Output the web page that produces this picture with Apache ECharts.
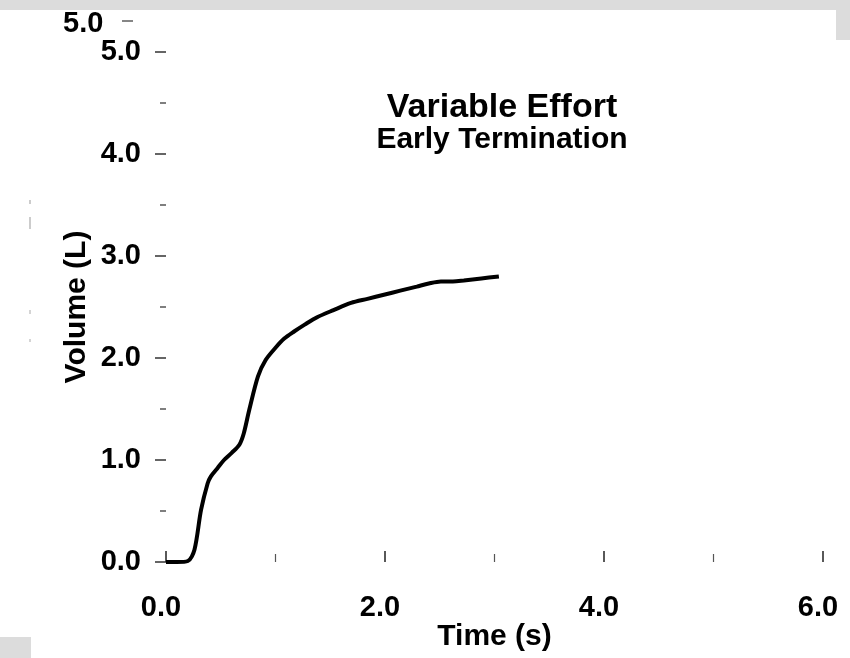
<!DOCTYPE html>
<html>
<head>
<meta charset="utf-8">
<script src="https://cdn.jsdelivr.net/npm/echarts@6/dist/echarts.min.js"></script>
<style>
  html, body { margin: 0; padding: 0; background: #fff; }
  #chart { width: 850px; height: 658px; }
</style>
</head>
<body>
<div id="chart"></div>
<script>
// spirometry trace
const times = [0, 0.1, 0.2, 0.26, 0.32, 0.38, 0.41, 0.47, 0.53, 0.6, 0.67, 0.71, 0.76, 0.84, 0.91, 1.0, 1.08, 1.17, 1.27, 1.38, 1.53, 1.69, 1.84, 1.99, 2.14, 2.29, 2.4, 2.51, 2.62, 2.72, 2.88, 3.04];
const volumes = [0, 0, 0.01, 0.12, 0.51, 0.77, 0.84, 0.92, 1.0, 1.07, 1.15, 1.26, 1.49, 1.82, 1.98, 2.1, 2.19, 2.26, 2.33, 2.4, 2.47, 2.54, 2.58, 2.62, 2.66, 2.7, 2.73, 2.75, 2.75, 2.76, 2.78, 2.8];
const xTicks = [0, 2, 4, 6];
const yTicks = [0, 1, 2, 3, 4, 5];

const font = "'Liberation Sans', Arial, sans-serif";
const scanGray = '#dcdcdc';

const chart = echarts.init(document.getElementById('chart'), null, { renderer: 'canvas' });

chart.setOption({
  backgroundColor: '#ffffff',
  animation: false,
  title: [
    {
      text: 'Variable Effort',
      left: 497, top: 86, textAlign: 'center',
      textStyle: { fontFamily: font, fontWeight: 'bold', fontSize: 34, color: '#000' }
    },
    {
      text: 'Early Termination',
      left: 497, top: 120, textAlign: 'center',
      textStyle: { fontFamily: font, fontWeight: 'bold', fontSize: 30, color: '#000' }
    }
  ],
  grid: { left: 166, right: 27, top: 52, bottom: 96, containLabel: false },
  xAxis: {
    type: 'value',
    min: 0, max: 6, interval: 2,
    name: 'Time (s)',
    nameLocation: 'middle',
    nameGap: 60,
    nameMoveOverlap: false,
    nameTextStyle: { fontFamily: font, fontWeight: 'bold', fontSize: 30, color: '#000' },
    axisLine: { show: false },
    axisTick: { show: true, inside: true, length: 11, lineStyle: { color: '#222', width: 1.5 } },
    minorTick: { show: true, splitNumber: 2, length: 8, lineStyle: { color: '#555', width: 1.2 } },
    splitLine: { show: false },
    axisLabel: {
      margin: 31,
      padding: [0, 10, 0, 0],
      fontFamily: font, fontWeight: 'bold', fontSize: 29, color: '#000',
      formatter: v => xTicks.includes(v) ? v.toFixed(1) : ''
    }
  },
  yAxis: {
    type: 'value',
    min: 0, max: 5, interval: 1,
    name: 'Volume (L)',
    nameLocation: 'middle',
    nameGap: 74,
    nameRotate: 90,
    nameMoveOverlap: false,
    nameTextStyle: { fontFamily: font, fontWeight: 'bold', fontSize: 30, color: '#000' },
    axisLine: { show: false },
    axisTick: { show: true, length: 11, lineStyle: { color: '#333', width: 1.5 } },
    minorTick: { show: true, splitNumber: 2, length: 6, lineStyle: { color: '#555', width: 1.5 } },
    splitLine: { show: false },
    axisLabel: {
      margin: 25,
      fontFamily: font, fontWeight: 'bold', fontSize: 29, color: '#000',
      formatter: v => yTicks.includes(v) ? v.toFixed(1) : ''
    }
  },
  series: [
    {
      type: 'line',
      data: times.map((t, i) => [t, volumes[i]]),
      showSymbol: false,
      smooth: 0.3,
      lineStyle: { color: '#000', width: 4 }
    }
  ],
  graphic: [
    // scanner edges
    { type: 'rect', left: 0, top: 0, shape: { width: 850, height: 10 }, style: { fill: scanGray } },
    { type: 'rect', left: 836, top: 10, shape: { width: 14, height: 30 }, style: { fill: scanGray } },
    { type: 'rect', left: 0, top: 637, shape: { width: 31, height: 21 }, style: { fill: scanGray } },
    // doubled top label from the scan
    {
      type: 'text', left: 63, top: 9,
      style: { text: '5.0', font: "bold 29px " + font, fill: '#000' }
    },
    { type: 'line', shape: { x1: 122, y1: 21, x2: 133, y2: 21 }, style: { stroke: '#444', lineWidth: 1.3 } },
    // faint specks at the left margin
    { type: 'line', shape: { x1: 30, y1: 200, x2: 30, y2: 204 }, style: { stroke: '#999', lineWidth: 1 } },
    { type: 'line', shape: { x1: 30, y1: 217, x2: 30, y2: 229 }, style: { stroke: '#999', lineWidth: 1 } },
    { type: 'line', shape: { x1: 30, y1: 310, x2: 30, y2: 314 }, style: { stroke: '#aaa', lineWidth: 1 } },
    { type: 'line', shape: { x1: 30, y1: 339, x2: 30, y2: 342 }, style: { stroke: '#aaa', lineWidth: 1 } }
  ]
});

window.addEventListener('resize', () => chart.resize());
</script>
</body>
</html>
